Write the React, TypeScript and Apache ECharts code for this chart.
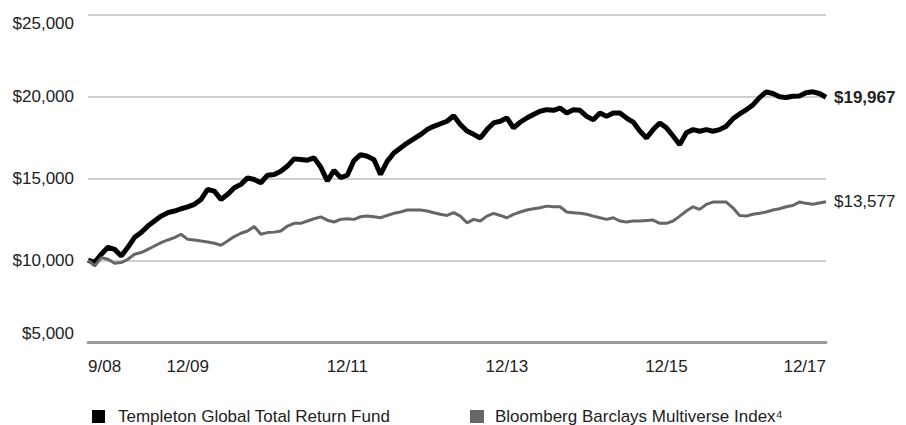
import React, { useEffect, useRef } from "react";
import * as echarts from "echarts";

// Monthly axis from 9/08 through 12/17
const startYear = 2008;
const startMonth = 9;
const monthCount = 112;
const months: string[] = Array.from({ length: monthCount }, (_, i) => {
  const m = ((startMonth - 1 + i) % 12) + 1;
  const y = startYear + Math.floor((startMonth - 1 + i) / 12);
  return `${m}/${String(y % 100).padStart(2, "0")}`;
});

const tickLabels = ["9/08", "12/09", "12/11", "12/13", "12/15", "12/17"];

const fundName = "Templeton Global Total Return Fund";
const indexName = "Bloomberg Barclays Multiverse Index⁴";

const fundValues = [
  10000, 9870, 10370, 10790, 10670, 10260, 10790, 11400, 11700, 12090, 12400, 12700,
  12910, 13010, 13150, 13270, 13420, 13720, 14330, 14230, 13720, 14030, 14430, 14640,
  15040, 14940, 14740, 15200, 15250, 15450, 15760, 16200, 16160, 16120, 16260, 15700,
  14850, 15500, 15050, 15200, 16100, 16460, 16360, 16160, 15250, 16050, 16560, 16870,
  17170, 17420, 17680, 17990, 18190, 18350, 18500, 18840, 18300, 17900, 17700, 17480,
  17990, 18400, 18500, 18700, 18100, 18440, 18700, 18910, 19110, 19210, 19170, 19310,
  19010, 19210, 19170, 18800, 18600, 19010, 18800, 19010, 19010, 18700, 18450, 17900,
  17480, 17990, 18400, 18100, 17600, 17070, 17800, 17990, 17890, 17990, 17890, 17990,
  18200, 18650, 18950, 19200, 19500, 19950, 20300, 20200, 20000, 19950, 20030, 20050,
  20250, 20300, 20200, 19967,
];

const indexValues = [
  10000, 9650, 10160, 10060, 9820, 9860, 10060, 10370, 10470, 10670, 10870, 11080,
  11240, 11380, 11590, 11280, 11240, 11180, 11120, 11040, 10920, 11180, 11450, 11650,
  11790, 12060, 11590, 11690, 11720, 11790, 12090, 12260, 12260, 12400, 12540, 12650,
  12450, 12340, 12500, 12540, 12500, 12660, 12700, 12660, 12600, 12740, 12870, 12950,
  13070, 13070, 13070, 13010, 12910, 12810, 12740, 12910, 12700, 12290, 12500, 12400,
  12700, 12870, 12740, 12600, 12810, 12950, 13070, 13150, 13210, 13310, 13270, 13270,
  12950, 12910, 12870, 12810, 12700, 12600, 12500, 12600, 12400, 12340, 12400, 12400,
  12430, 12460, 12260, 12260, 12400, 12700, 13010, 13270, 13110, 13420, 13560, 13560,
  13560, 13210, 12740, 12700, 12810, 12870, 12950, 13070, 13150, 13270, 13350, 13560,
  13480, 13420, 13500, 13577,
];

const yMin = 5000;
const yMax = 25000;
const yInterval = 5000;

const FONT = "'Liberation Sans', Arial, sans-serif";
const TEXT = "#222";

const fmtDollar = (v: number) => "$" + Math.round(v).toLocaleString("en-US");

export default function App() {
  const ref = useRef<HTMLDivElement>(null);
  useEffect(() => {
    if (!ref.current) return;
    const chart = echarts.init(ref.current, undefined, { renderer: "svg" });
    chart.setOption({
      animation: false,
      backgroundColor: "#fff",
      textStyle: { fontFamily: FONT },
      grid: { left: 88, right: 80, top: 15, bottom: 83, containLabel: false },
      legend: [
        {
          data: [fundName],
          left: 87,
          top: 403,
          icon: "rect",
          itemWidth: 13,
          itemHeight: 13,
          itemStyle: { color: "#000" },
          textStyle: { fontSize: 17, color: TEXT, fontFamily: FONT, padding: [0, 0, 0, 8] },
        },
        {
          data: [indexName],
          left: 465,
          top: 403,
          icon: "rect",
          itemWidth: 14,
          itemHeight: 13,
          itemStyle: { color: "#666" },
          textStyle: { fontSize: 17, color: TEXT, fontFamily: FONT, padding: [0, 0, 0, 6] },
        },
      ],
      xAxis: {
        type: "category",
        data: months,
        boundaryGap: false,
        axisLine: { show: true, lineStyle: { color: "#9a9a9a", width: 3 } },
        axisTick: { show: false },
        splitLine: { show: false },
        axisLabel: {
          interval: (_i: number, v: string) => tickLabels.includes(v),
          color: TEXT,
          fontSize: 17,
          fontFamily: FONT,
          margin: 16,
          alignMinLabel: "left",
          alignMaxLabel: "right",
        },
      },
      yAxis: {
        type: "value",
        min: yMin,
        max: yMax,
        interval: yInterval,
        axisLine: { show: false },
        axisTick: { show: false },
        splitLine: { show: true, lineStyle: { color: "#cfcfcf", width: 2 } },
        axisLabel: {
          formatter: (v: number) => fmtDollar(v),
          color: TEXT,
          fontSize: 17,
          fontFamily: FONT,
          margin: 14,
          verticalAlignMaxLabel: "top",
          verticalAlignMinLabel: "bottom",
        },
      },
      series: [
        {
          name: fundName,
          type: "line",
          data: fundValues,
          showSymbol: false,
          symbol: "none",
          color: "#000",
          lineStyle: { color: "#000", width: 5 },
          z: 2,
          endLabel: {
            show: true,
            formatter: (p: any) => fmtDollar(p.value),
            fontSize: 17,
            fontWeight: "bold",
            color: TEXT,
            fontFamily: FONT,
            distance: 8,
          },
        },
        {
          name: indexName,
          type: "line",
          data: indexValues,
          showSymbol: false,
          symbol: "none",
          color: "#666",
          lineStyle: { color: "#666", width: 3 },
          z: 3,
          endLabel: {
            show: true,
            formatter: (p: any) => fmtDollar(p.value),
            fontSize: 17,
            color: TEXT,
            fontFamily: FONT,
            distance: 8,
          },
        },
      ],
    });
    return () => chart.dispose();
  }, []);
  return (
    <div
      ref={ref}
      style={{ position: "fixed", left: 0, top: 0, width: 906, height: 425, background: "#fff" }}
    />
  );
}
